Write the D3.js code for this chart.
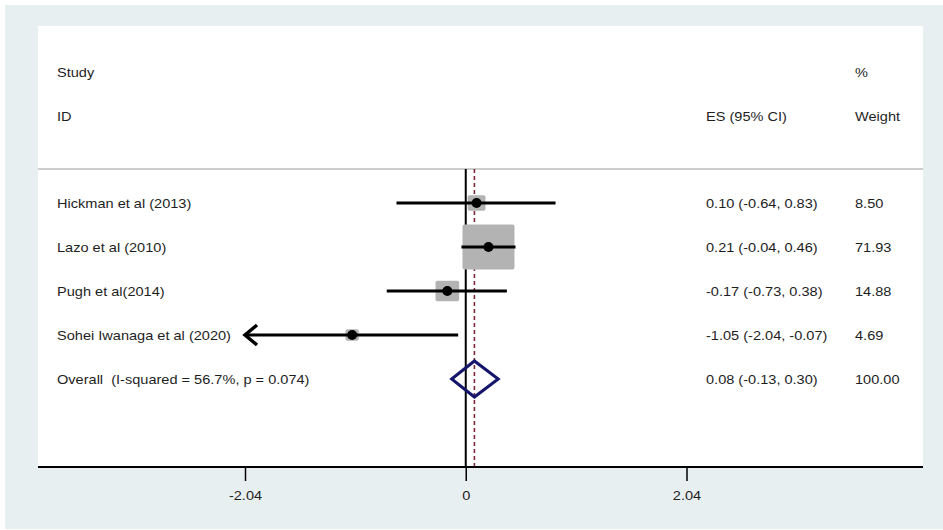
<!DOCTYPE html>
<html>
<head>
<meta charset="utf-8">
<script src="https://cdn.jsdelivr.net/npm/d3@7"></script>
<style>
  html, body { margin: 0; padding: 0; background: #ffffff; }
  svg { display: block; }
  text { font-family: "Liberation Sans", Arial, sans-serif; fill: #1e1e1e; white-space: pre; }
</style>
</head>
<body>
<svg id="chart" width="943" height="530"></svg>
<script>
// Meta-analysis: study estimates with 95% confidence intervals
const studies   = ["Hickman et al (2013)", "Lazo et al (2010)", "Pugh et al(2014)", "Sohei Iwanaga et al (2020)"];
const es        = [0.10, 0.21, -0.17, -1.05];
const ciLower   = [-0.64, -0.04, -0.73, -2.04];
const ciUpper   = [0.83, 0.46, 0.38, -0.07];
const weights   = [8.50, 71.93, 14.88, 4.69];

const overallLabel = "Overall  (I-squared = 56.7%, p = 0.074)";
const overallES    = 0.08;
const overallLower = -0.13;
const overallUpper = 0.30;
const overallWeight = 100.00;

const xTicks = [-2.04, 0, 2.04];
const xTickLabels = ["-2.04", "0", "2.04"];

const svg = d3.select("#chart");

// outer frame and plot panel
svg.append("rect").attr("x", 5).attr("y", 5).attr("width", 938).attr("height", 524).attr("fill", "#e8eff1");
svg.append("rect").attr("x", 38).attr("y", 26).attr("width", 885).attr("height", 441).attr("fill", "#ffffff");

const x = d3.scaleLinear().domain([-2.04, 2.04]).range([245, 686.5]);
const nRows = studies.length + 1;
const y = d3.scaleLinear().domain([0, nRows - 1]).range([203, 379]);
const boxW = d3.scaleSqrt().domain([0, 100]).range([0, 61.3]);
const boxAspect = 0.87;

// plain hyphen-minus, as in the printed table
const fmt2 = d3.format(".2f");
const fmt = v => fmt2(v).replace("\u2212", "-");
const textSX = 1.12;

function label(g, str, tx, ty, anchor) {
  return g.append("text")
    .attr("transform", `translate(${tx},${ty}) scale(${textSX},1)`)
    .attr("text-anchor", anchor || "start")
    .attr("xml:space", "preserve")
    .style("font-size", "13px")
    .text(str);
}

// header
const head = svg.append("g");
label(head, "Study", 57, 77);
label(head, "ID", 57, 121);
label(head, "ES (95% CI)", 706, 121);
label(head, "%", 855, 77);
label(head, "Weight", 855, 121);

const headerY = 169, axisY = 467;
svg.append("line").attr("x1", 38).attr("x2", 923).attr("y1", headerY).attr("y2", headerY)
  .attr("stroke", "#bdbdbd").attr("stroke-width", 1.5);

// null line and pooled-estimate reference line
svg.append("line").attr("x1", x(0)).attr("x2", x(0)).attr("y1", headerY).attr("y2", axisY)
  .attr("stroke", "#000").attr("stroke-width", 2);
svg.append("line").attr("x1", x(overallES)).attr("x2", x(overallES)).attr("y1", headerY).attr("y2", axisY)
  .attr("stroke", "#7a2a3a").attr("stroke-width", 1.6).attr("stroke-dasharray", "4,3");

// study rows
const rows = svg.append("g");
studies.forEach((name, i) => {
  const cy = y(i);
  const w = boxW(weights[i]), h = w * boxAspect;
  rows.append("rect")
    .attr("x", x(es[i]) - w / 2).attr("y", cy - h / 2)
    .attr("width", w).attr("height", h)
    .attr("rx", 2).attr("fill", "#b3b3b3");
  const lo = Math.max(ciLower[i], xTicks[0]);
  const hi = Math.min(ciUpper[i], xTicks[xTicks.length - 1]);
  rows.append("line").attr("x1", x(lo)).attr("x2", x(hi)).attr("y1", cy).attr("y2", cy)
    .attr("stroke", "#000").attr("stroke-width", 3);
  if (ciLower[i] <= xTicks[0]) {
    rows.append("path")
      .attr("d", `M${x(lo) + 12},${cy - 10}L${x(lo)},${cy}L${x(lo) + 12},${cy + 10}`)
      .attr("fill", "none").attr("stroke", "#000").attr("stroke-width", 3.5);
  }
  rows.append("circle").attr("cx", x(es[i])).attr("cy", cy).attr("r", 5).attr("fill", "#000");
  label(rows, name, 57, cy + 5);
  label(rows, `${fmt(es[i])} (${fmt(ciLower[i])}, ${fmt(ciUpper[i])})`, 706, cy + 5);
  label(rows, fmt(weights[i]), 855, cy + 5);
});

// pooled estimate diamond
const oy = y(studies.length);
svg.append("path")
  .attr("d", `M${x(overallLower)},${oy}L${x(overallES)},${oy - 18}L${x(overallUpper)},${oy}L${x(overallES)},${oy + 18}Z`)
  .attr("fill", "none").attr("stroke", "#15156b").attr("stroke-width", 3);
label(rows, overallLabel, 57, oy + 5);
label(rows, `${fmt(overallES)} (${fmt(overallLower)}, ${fmt(overallUpper)})`, 706, oy + 5);
label(rows, fmt(overallWeight), 855, oy + 5);

// x axis
svg.append("line").attr("x1", 38).attr("x2", 923).attr("y1", axisY).attr("y2", axisY)
  .attr("stroke", "#000").attr("stroke-width", 2);
const axis = d3.axisBottom(x).tickValues(xTicks).tickSize(14).tickPadding(10)
  .tickFormat((d, i) => xTickLabels[i]);
const ax = svg.append("g").attr("transform", `translate(0,${axisY})`).call(axis);
ax.select(".domain").remove();
ax.selectAll(".tick line").attr("stroke", "#000").attr("stroke-width", 1.5);
ax.selectAll(".tick text")
  .attr("transform", `scale(${textSX},1)`)
  .style("font-size", "13px").style("font-family", "Liberation Sans, Arial, sans-serif").attr("fill", "#333");
</script>
</body>
</html>
